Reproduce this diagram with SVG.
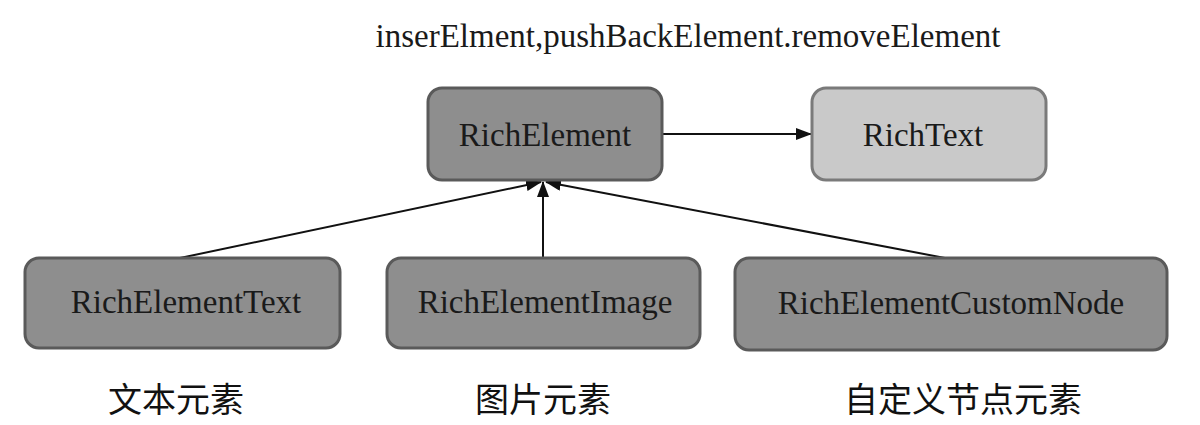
<svg xmlns="http://www.w3.org/2000/svg" width="1200" height="425" viewBox="0 0 1200 425">
<defs>
<style>
.box{fill:#8e8e8e;stroke:#5a5a5a;stroke-width:3}
.light{fill:#c9c9c9;stroke:#7a7a7a;stroke-width:3}
.t{font-family:"Liberation Serif","Noto Sans CJK SC",serif;font-size:33px;fill:#1a1a1a;text-anchor:middle}
.cjk{font-family:"Noto Sans CJK SC",serif;font-size:34px;fill:#111;text-anchor:middle}
.c{stroke:#111;stroke-width:2;fill:none;marker-end:url(#ah)}
</style>
<marker id="ah" markerWidth="16" markerHeight="12" refX="15" refY="6" orient="auto" markerUnits="userSpaceOnUse">
<path d="M0,0 L16,6 L0,12 Z" fill="#111"/>
</marker>
</defs>
<rect width="1200" height="425" fill="#fff"/>
<text class="t" x="688" y="47">inserElment,pushBackElement.removeElement</text>
<g id="connectors">
<line class="c" x1="662" y1="134" x2="811" y2="134"/>
<line class="c" x1="180" y1="258" x2="541" y2="182"/>
<line class="c" x1="543" y1="258" x2="543" y2="182"/>
<line class="c" x1="945" y1="258" x2="546" y2="182"/>
</g>
<g id="RichElement">
<rect class="box" x="428" y="88" width="234" height="92" rx="14"/>
<text class="t" x="545" y="146">RichElement</text>
</g>
<g id="RichText">
<rect class="light" x="812" y="88" width="234" height="92" rx="14"/>
<text class="t" x="923" y="146">RichText</text>
</g>
<g id="RichElementText">
<rect class="box" x="25" y="258" width="315" height="90" rx="14"/>
<text class="t" x="186" y="313">RichElementText</text>
</g>
<g id="RichElementImage">
<rect class="box" x="387" y="258" width="313" height="90" rx="14"/>
<text class="t" x="545" y="313">RichElementImage</text>
</g>
<g id="RichElementCustomNode">
<rect class="box" x="735" y="258" width="432" height="92" rx="14"/>
<text class="t" x="951" y="314">RichElementCustomNode</text>
</g>
<g id="labels">
<text class="cjk" x="176" y="412">文本元素</text>
<text class="cjk" x="543" y="412">图片元素</text>
<text class="cjk" x="963" y="412">自定义节点元素</text>
</g>
</svg>
